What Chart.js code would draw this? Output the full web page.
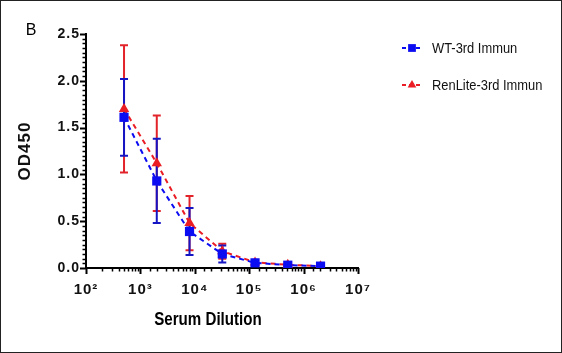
<!DOCTYPE html>
<html>
<head>
<meta charset="utf-8">
<script src="https://cdn.jsdelivr.net/npm/chart.js@4"></script>
<style>
  html, body { margin: 0; padding: 0; background: #fff; }
  canvas { display: block; }
</style>
</head>
<body>
<canvas id="myChart" width="562" height="353"></canvas>
<script>
// serum dilution (x) and OD450 mean / error (y)
const dilution = [500, 2000, 8000, 32000, 128000, 512000, 2048000];
const wtMean = [1.61, 0.93, 0.39, 0.15, 0.055, 0.03, 0.02];
const wtErr = [0.41, 0.45, 0.25, 0.09, 0.015, 0.01, 0.01];
const renMean = [1.70, 1.12, 0.48, 0.18, 0.06, 0.035, 0.02];
const renErr = [0.68, 0.51, 0.29, 0.08, 0.015, 0.01, 0.01];
const seriesNames = ['WT-3rd Immun', 'RenLite-3rd Immun'];
const xTickLabels = ['10\u00B2', '10\u00B3', '10\u2074', '10\u2075', '10\u2076', '10\u2077'];
const yTicks = [0, 0.5, 1.0, 1.5, 2.0, 2.5];

const blue = '#0c0cf2';
const red = '#ea1d25';
const blueErr = '#1515c4';
const redErr = '#e3232a';
const FONT = "'Liberation Sans', Arial, 'DejaVu Sans', sans-serif";

function toPoints(means) {
    return dilution.map(function (d, i) { return {x: d, y: means[i]}; });
}

// narrow text (the original uses a condensed face)
function narrowText(ctx, text, x, y, sx) {
    ctx.save();
    ctx.translate(x, y);
    ctx.scale(sx, 1);
    ctx.fillText(text, 0, 0);
    ctx.restore();
}

// error bars under the markers
const errorBars = {
    id: 'errorBars',
    beforeDatasetsDraw(chart) {
        const ctx = chart.ctx;
        ctx.letterSpacing = '0px';
        const xs = chart.scales.x, ys = chart.scales.y;
        const sets = [[renMean, renErr, redErr], [wtMean, wtErr, blueErr]];
        ctx.save();
        ctx.lineWidth = 2;
        sets.forEach(function (s) {
            ctx.strokeStyle = s[2];
            for (let i = 0; i < dilution.length; i++) {
                const px = xs.getPixelForValue(dilution[i]);
                const top = ys.getPixelForValue(s[0][i] + s[1][i]);
                const bot = ys.getPixelForValue(Math.max(0, s[0][i] - s[1][i]));
                ctx.beginPath();
                ctx.moveTo(px, top); ctx.lineTo(px, bot);
                ctx.moveTo(px - 4, top); ctx.lineTo(px + 4, top);
                ctx.moveTo(px - 4, bot); ctx.lineTo(px + 4, bot);
                ctx.stroke();
            }
        });
        ctx.restore();
    }
};

// tick marks, frame, panel letter, x title, legend
const decorations = {
    id: 'decorations',
    beforeDraw(chart) {
        chart.ctx.letterSpacing = '1px';
    },
    afterDraw(chart) {
        const ctx = chart.ctx;
        const xs = chart.scales.x, ys = chart.scales.y;
        const area = chart.chartArea;
        ctx.save();
        ctx.letterSpacing = '0px';
        ctx.strokeStyle = '#000';
        // x ticks (log major + minor)
        xs.ticks.forEach(function (t) {
            const e = Math.log10(t.value);
            const major = Math.abs(e - Math.round(e)) < 1e-9;
            const px = Math.round(xs.getPixelForValue(t.value)) + 0.5;
            ctx.lineWidth = major ? 2 : 1.5;
            ctx.beginPath();
            ctx.moveTo(px, area.bottom);
            ctx.lineTo(px, area.bottom + (major ? 6 : 3.5));
            ctx.stroke();
        });
        // y ticks (major 0.5, minor 0.05)
        for (let k = 0; k <= 50; k++) {
            const v = k * 0.05;
            const major = k % 10 === 0;
            const py = Math.round(ys.getPixelForValue(v)) + 0.5;
            ctx.lineWidth = major ? 2 : 1.5;
            ctx.beginPath();
            ctx.moveTo(area.left, py);
            ctx.lineTo(area.left - (major ? 6 : 3.5), py);
            ctx.stroke();
        }
        // frame
        ctx.lineWidth = 1;
        ctx.strokeStyle = '#222';
        ctx.strokeRect(0.5, 0.5, chart.width - 1, chart.height - 1);
        // panel letter
        ctx.fillStyle = '#000';
        ctx.textAlign = 'center';
        ctx.textBaseline = 'middle';
        ctx.font = '16px ' + FONT;
        ctx.fillText('B', 31, 31);
        // x axis title
        ctx.font = 'bold 18px ' + FONT;
        narrowText(ctx, 'Serum Dilution', 208, 320, 0.84);
        // legend
        ctx.textAlign = 'left';
        ctx.font = '15px ' + FONT;
        chart.data.datasets.forEach(function (ds, i) {
            const ly = 48 + i * 37;
            ctx.strokeStyle = ds.borderColor;
            ctx.lineWidth = 2;
            ctx.setLineDash([4, 3]);
            ctx.beginPath();
            ctx.moveTo(402, ly); ctx.lineTo(422, ly);
            ctx.stroke();
            ctx.setLineDash([]);
            ctx.fillStyle = ds.pointBackgroundColor;
            Chart.helpers.drawPoint(ctx, {pointStyle: ds.pointStyle, radius: ds.pointRadius - 1, rotation: 0, borderWidth: 0}, 412, ly);
            ctx.fillStyle = '#111';
            narrowText(ctx, ds.label, 432, ly + 1, 0.86);
        });
        ctx.restore();
    }
};

let ctx = document.getElementById('myChart').getContext('2d');
let myChart = new Chart(ctx, {
    type: 'scatter',
    data: {
        datasets: [{
            label: seriesNames[0],
            data: toPoints(wtMean),
            showLine: true,
            borderColor: blue,
            borderWidth: 2,
            borderDash: [5, 4],
            pointStyle: 'rect',
            pointRadius: 6.5,
            pointBackgroundColor: blue,
            pointBorderWidth: 0
        }, {
            label: seriesNames[1],
            data: toPoints(renMean),
            showLine: true,
            borderColor: red,
            borderWidth: 2,
            borderDash: [5, 4],
            pointStyle: 'triangle',
            pointRadius: 6,
            pointBackgroundColor: red,
            pointBorderWidth: 0
        }]
    },
    options: {
        responsive: false,
        animation: false,
        devicePixelRatio: 1,
        layout: { padding: { left: 0, top: 34, right: 204, bottom: 0 } },
        plugins: {
            legend: { display: false },
            tooltip: { enabled: false }
        },
        scales: {
            x: {
                type: 'logarithmic',
                min: 100,
                max: 10000000,
                grid: { display: false, drawTicks: false },
                border: { display: true, color: '#000', width: 2 },
                ticks: {
                    autoSkip: false,
                    maxRotation: 0,
                    padding: 13,
                    color: '#111',
                    font: { family: FONT, size: 15, weight: 'bold' },
                    callback: function (v) {
                        const e = Math.log10(v);
                        if (Math.abs(e - Math.round(e)) > 1e-9) return '';
                        return xTickLabels[Math.round(e) - 2];
                    }
                },
                afterFit: function (scale) { scale.height = 85; }
            },
            y: {
                min: 0,
                max: 2.5,
                grid: { display: false, drawTicks: false },
                border: { display: true, color: '#000', width: 2 },
                afterBuildTicks: function (scale) {
                    scale.ticks = yTicks.map(function (v) { return {value: v}; });
                },
                ticks: {
                    padding: 6,
                    color: '#111',
                    font: { family: FONT, size: 14, weight: 'bold' },
                    callback: function (v) { return v.toFixed(1); }
                },
                title: {
                    display: true,
                    text: 'OD450',
                    color: '#111',
                    font: { family: FONT, size: 17, weight: 'bold' },
                    padding: { top: 15, bottom: 0 }
                },
                afterFit: function (scale) { scale.width = 86; }
            }
        }
    },
    plugins: [errorBars, decorations]
});
</script>
</body>
</html>
